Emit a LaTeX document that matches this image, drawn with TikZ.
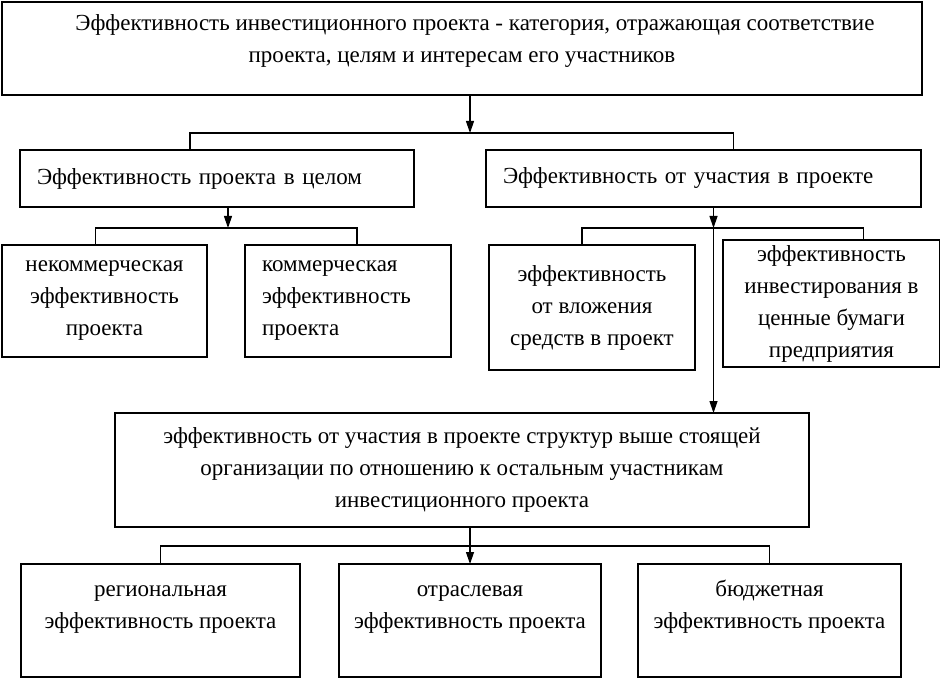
\documentclass[tikz,border=0pt]{standalone}
\usepackage{fontspec}
\setmainfont{Liberation Serif}
\usetikzlibrary{arrows.meta, positioning}

\begin{document}
\begin{tikzpicture}[
			x=1pt, y=1pt,
			box/.style={rectangle, draw, line width=1.5pt, outer sep=0pt, inner xsep=6pt, align=center, font=\fontsize{23}{32}\selectfont},
			lbox/.style={box, align=left, inner xsep=17pt},
			link/.style={line width=1.2pt},
			arr/.style={link, -{Triangle[length=12pt, width=8pt]}},
			]
			\useasboundingbox (0,0) rectangle (940,-679);
			\node (top) [box, anchor=north west, minimum width=920pt, minimum height=93pt] at (2,-2) {\hspace*{26pt}Эффективность инвестиционного проекта - категория, отражающая соответствие\\проекта, целям и интересам его участников\\[-12pt]\mbox{}};
			\node (whole) [lbox, below=55pt of top.south west, anchor=north west, xshift=18pt, text width=360pt, minimum height=57pt] {Эффективность проекта в целом};
			\node (part) [lbox, right=72pt of whole.north east, anchor=north west, text width=401pt, minimum height=57pt] {Эффективность от участия в проекте};
			\node (noncom) [box, below=38pt of whole.south west, anchor=north west, xshift=-18pt, minimum width=205pt, minimum height=112pt] {некоммерческая\\эффективность\\проекта};
			\node (com) [lbox, right=38pt of noncom.north east, anchor=north west, text width=172pt, minimum height=112pt] {коммерческая\\эффективность\\проекта};
			\node (invest) [box, below=38pt of part.south west, anchor=north west, xshift=3pt, minimum width=206pt, minimum height=125pt] {эффективность\\от вложения\\средств в проект};
			\node (secur) [box, right=28pt of invest.north east, anchor=north west, yshift=5pt, inner ysep=0pt, minimum width=217pt, minimum height=127pt] {эффективность\\инвестирования в\\ценные бумаги\\предприятия};
			\node (upper) [box, below=318pt of top.south, minimum width=694pt, minimum height=114pt] {эффективность от участия в проекте структур выше стоящей\\организации по отношению к остальным участникам\\инвестиционного проекта};
			\node (branch) [box, below=37pt of upper.south, xshift=8pt, minimum width=262pt, minimum height=113pt] {\vphantom{б}отраслевая\\эффективность проекта\\\mbox{}};
			\node (region) [box, left=39pt of branch.north west, anchor=north east, minimum width=279pt, minimum height=113pt] {\vphantom{б}региональная\\эффективность проекта\\\mbox{}};
			\node (budget) [box, right=37pt of branch.north east, anchor=north west, minimum width=263pt, minimum height=113pt] {бюджетная\\эффективность проекта\\\mbox{}};

			% forks where the arrows meet the brackets
			\coordinate (fork1) at ([xshift=8pt, yshift=-38pt]top.south);
			\coordinate (fork2) at ([xshift=11pt, yshift=-21pt]whole.south);
			\coordinate (fork3) at ([xshift=10pt, yshift=-21pt]part.south);
			\coordinate (fork4) at ([yshift=18pt]branch.north);

			\draw[arr] (top.south -| fork1) -- (fork1);
			\draw[link] ([xshift=-27pt]whole.north) |- (fork1) -| ([xshift=30pt]part.north);
			\draw[arr] (whole.south -| fork2) -- (fork2);
			\draw[link] ([xshift=-9pt]noncom.north) |- (fork2) -| ([xshift=9pt]com.north);
			\draw[arr] (part.south -| fork3) -- (fork3);
			\draw[link] ([xshift=-10pt]invest.north) |- (fork3) -| ([xshift=32pt]secur.north);
			\draw[arr] (fork3) -- (upper.north -| fork3); % straight down to the upper organisation box
			\draw[arr] (upper.south -| branch.north) -- (branch.north);
			\draw[link] (region.north) |- (fork4) -| (budget.north);
		\end{tikzpicture}
\end{document}
